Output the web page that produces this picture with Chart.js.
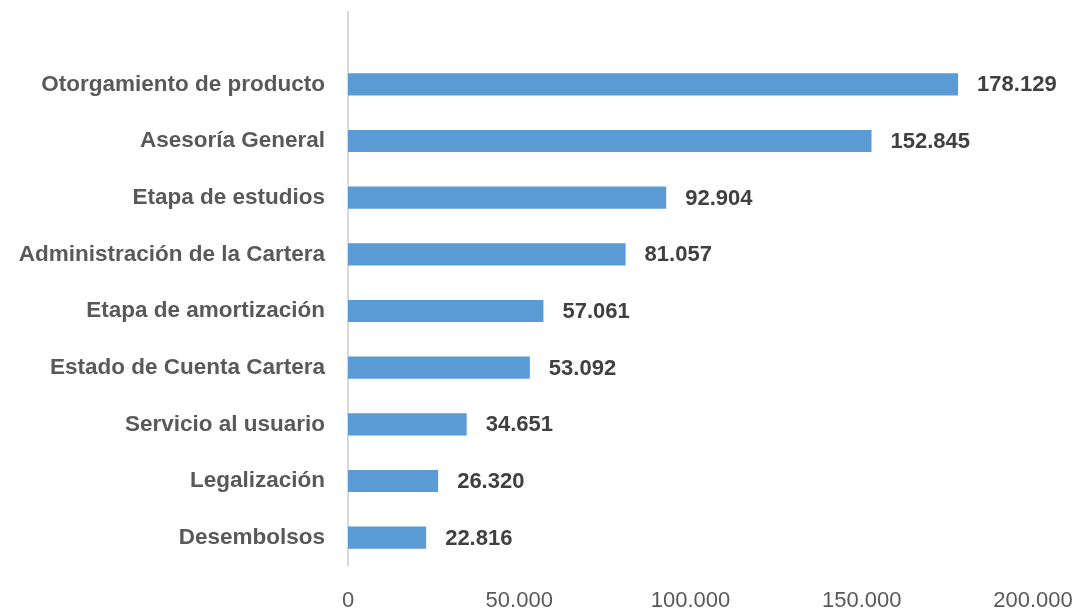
<!DOCTYPE html>
<html>
<head>
<meta charset="utf-8">
<script src="https://cdn.jsdelivr.net/npm/chart.js@4.4.1/dist/chart.umd.min.js"></script>
<style>
  html, body { margin: 0; padding: 0; background: #fff; }
  #wrap { width: 1078px; height: 610px; }
</style>
</head>
<body>
<div id="wrap"><canvas id="barChart"></canvas></div>
<script>
const categories = ['Otorgamiento de producto', 'Asesoría General', 'Etapa de estudios',
  'Administración de la Cartera', 'Etapa de amortización', 'Estado de Cuenta Cartera',
  'Servicio al usuario', 'Legalización', 'Desembolsos'];
const values = [178129, 152845, 92904, 81057, 57061, 53092, 34651, 26320, 22816];
const xTicks = [0, 50000, 100000, 150000, 200000];

const fontFam = "'Liberation Sans Narrow', 'Arial Narrow', 'Liberation Sans', Arial, sans-serif";
const fmt = v => v.toLocaleString('de-DE');

// etiquetas de valor a la derecha de cada barra
const valueLabels = {
  id: 'valueLabels',
  afterDatasetsDraw(chart) {
    const ctx = chart.ctx;
    const meta = chart.getDatasetMeta(0);
    ctx.save();
    ctx.font = 'bold 22px ' + fontFam;
    ctx.fillStyle = '#404040';
    ctx.textBaseline = 'middle';
    meta.data.forEach((bar, i) => {
      ctx.fillText(fmt(values[i]), bar.x + 19, bar.y + 1);
    });
    ctx.restore();
  }
};

// linea vertical del eje en cero
const zeroLine = {
  id: 'zeroLine',
  beforeDatasetsDraw(chart) {
    const ctx = chart.ctx;
    const x = chart.scales.x.getPixelForValue(0);
    ctx.save();
    ctx.strokeStyle = '#d9d9d9';
    ctx.lineWidth = 2;
    ctx.beginPath();
    ctx.moveTo(x, 11);
    ctx.lineTo(x, chart.chartArea.bottom);
    ctx.stroke();
    ctx.restore();
  }
};

new Chart(document.getElementById('barChart'), {
  type: 'bar',
  data: {
    labels: categories,
    datasets: [{
      data: values,
      backgroundColor: '#5b9bd5',
      categoryPercentage: 1,
      barPercentage: 0.39
    }]
  },
  options: {
    indexAxis: 'y',
    responsive: true,
    maintainAspectRatio: false,
    animation: false,
    layout: { padding: { top: 56, right: 45, left: 0, bottom: 0 } },
    plugins: { legend: { display: false }, tooltip: { enabled: false } },
    scales: {
      x: {
        min: 0,
        max: 200000,
        afterBuildTicks: s => { s.ticks = xTicks.map(v => ({ value: v })); },
        afterFit: s => { s.height = 44; s.paddingRight = 0; s.paddingLeft = 0; },
        grid: { display: false },
        border: { display: false },
        ticks: {
          color: '#595959',
          font: { family: fontFam, size: 22 },
          padding: 14,
          maxRotation: 0,
          callback: v => fmt(v)
        }
      },
      y: {
        afterFit: s => { s.width = 348; },
        grid: { display: false },
        border: { display: false },
        ticks: {
          color: '#595959',
          font: { family: fontFam, size: 22.5, weight: 'bold' },
          padding: 15
        }
      }
    }
  },
  plugins: [zeroLine, valueLabels]
});
</script>
</body>
</html>
